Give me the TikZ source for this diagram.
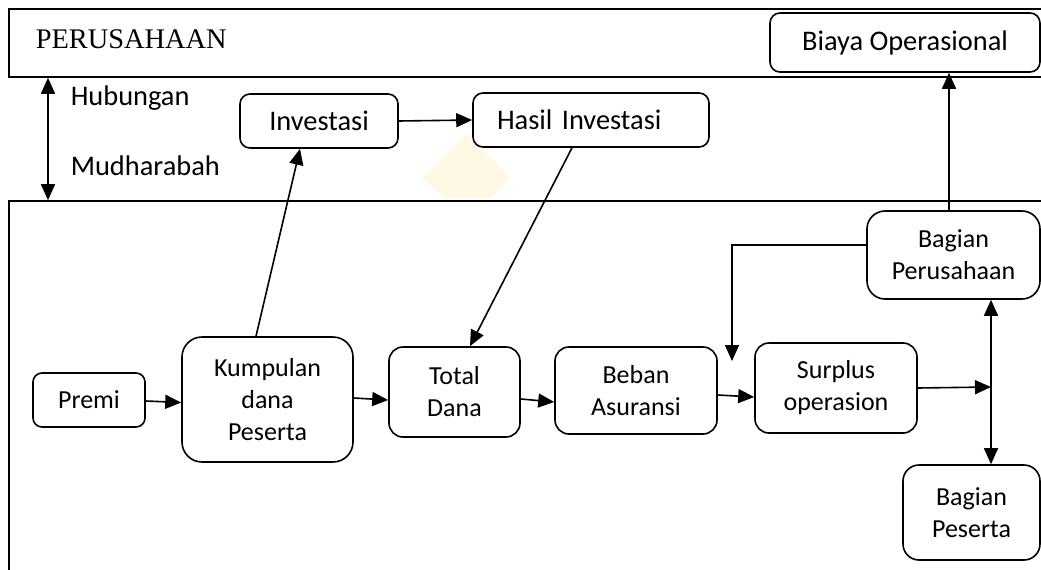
\documentclass[tikz,border=0pt]{standalone}
\usepackage{fontspec}
\setmainfont{Carlito}
\newfontfamily\serifpart{Liberation Serif}
\usetikzlibrary{arrows.meta}
\begin{document}
\begin{tikzpicture}[x=1pt,y=-1pt,
  line width=1.6pt,
  box/.style={draw,rounded corners=#1,inner sep=0pt,align=center,
    font=\fontsize{26}{32}\selectfont},
  box/.default=15pt,
  topbox/.style={draw,rounded corners=10pt,inner sep=0pt,align=center,
    font=\fontsize{28.4}{34}\selectfont},
  frame/.style={draw,inner sep=0pt},
  lbl/.style={anchor=base west,inner sep=0pt,font=\fontsize{28.4}{34}\selectfont},
  arr/.style={-{Triangle[length=16pt,width=14pt]}},
  darr/.style={{Triangle[length=16pt,width=14pt]}-{Triangle[length=16pt,width=14pt]}}
]
\useasboundingbox (0,0) rectangle (1041,570);
% faint watermark
\fill[fill={rgb,255:red,255;green,248;blue,228}]
  (422,178) -- (467,133) -- (510,178) -- (490,198) -- (444,198) -- cycle;
% frames
\node[frame,minimum width=1037pt,minimum height=68pt] (perus) at (527.5,43) {};
\node[frame,minimum width=1037pt,minimum height=379pt] (lower) at (527.5,390.5) {};
\node[lbl,font=\serifpart\fontsize{28.4}{34}\selectfont] (perustxt) at (35,48) {PERUSAHAAN};
\node[lbl] (hub) at (70,105) {Hubungan};
\node[lbl] (mud) at (70,175) {Mudharabah};
% top boxes
\node[topbox,minimum width=270pt,minimum height=59pt] (biaya) at (905,42.5) {Biaya Operasional};
\node[topbox,minimum width=158pt,minimum height=54pt] (inv) at (319,121) {Investasi};
\node[topbox,minimum width=236pt,minimum height=54pt,text width=188pt,inner xsep=24pt,align=left] (hasil) at (591,120) {Hasil Investasi};
% lower boxes
\node[box=9pt,minimum width=112pt,minimum height=54pt] (premi) at (89,400) {Premi};
\node[box=20pt,minimum width=171pt,minimum height=125pt] (kump) at (267.5,399.5) {Kumpulan\\dana\\Peserta};
\node[box=14pt,minimum width=131pt,minimum height=90pt] (total) at (454.5,392) {Total\\Dana};
\node[box=14pt,minimum width=162pt,minimum height=87pt] (beban) at (636,390.5) {Beban\\Asuransi};
\node[box=14pt,minimum width=162pt,minimum height=90pt] (surplus) at (836,388) {Surplus\\operasion};
\node[box=18pt,minimum width=173pt,minimum height=88pt] (bper) at (953.5,255) {Bagian\\Perusahaan};
\node[box=16pt,minimum width=137pt,minimum height=95pt] (bpes) at (971.5,512.5) {Bagian\\Peserta};
% helper coordinates
\coordinate (hx) at (48,0);
\coordinate (bx) at (949,0);
\coordinate (j) at (991,387);
\coordinate (e) at (732,361);
% connectors
\draw[darr] (hx |- perus.south) -- (hx |- lower.north);
\draw[arr] (inv.east) -- (hasil.west);
\draw[arr] ([xshift=-11.5pt]kump.north) -- ([xshift=-19pt]inv.south);
\draw[arr] ([xshift=-19pt]hasil.south) -- ([xshift=15.5pt]total.north);
\draw[arr] ([yshift=-1pt]premi.east) -- ([yshift=-3pt]kump.west);
\draw[arr] ([yshift=1.5pt]kump.east) -- ([yshift=-8pt]total.west);
\draw[arr] ([yshift=-7pt]total.east) -- ([yshift=-11.5pt]beban.west);
\draw[arr] ([yshift=-4.5pt]beban.east) -- ([yshift=-9pt]surplus.west);
\draw[arr] (surplus.east) -- (j);
\draw[darr] (j |- bper.south) -- (j |- bpes.north);
\draw[arr] (bx |- bper.north) -- (bx |- biaya.south);
\draw[arr] ([yshift=10pt]bper.west) -| (e);
\end{tikzpicture}
\end{document}
